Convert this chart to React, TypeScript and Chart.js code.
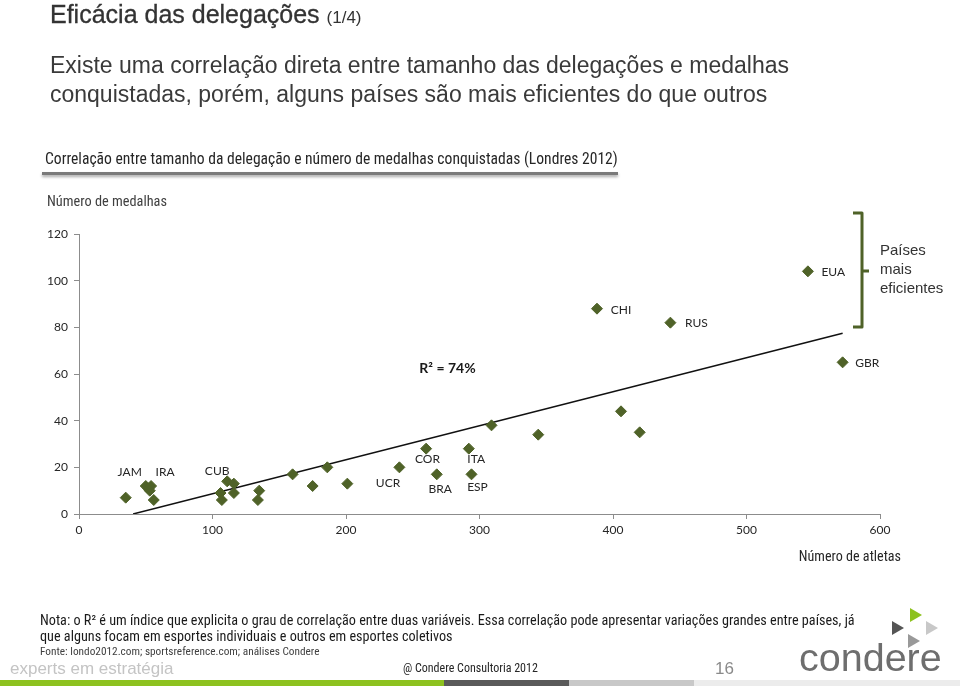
import React, { useEffect, useRef } from "react";
import { Chart, registerables } from "chart.js";

Chart.register(...registerables);

const athletes = [35, 50, 52, 54, 53, 56, 106, 107, 111, 116, 116, 135, 134, 160, 175, 186, 201, 240, 260, 268, 292, 294, 309, 344, 406, 420, 388, 443, 546, 572];
const medals = [7, 12, 11, 12, 10, 6, 9, 6, 14, 13, 9, 10, 6, 17, 12, 20, 13, 20, 28, 17, 28, 17, 38, 34, 44, 35, 88, 82, 104, 65];

const labelNames = ["JAM", "IRA", "CUB", "UCR", "COR", "BRA", "ITA", "ESP", "CHI", "RUS", "EUA", "GBR"];
const labelX = [38, 64.5, 103.5, 231.5, 261, 270.5, 297.5, 298.5, 406, 462.5, 565, 590.5];
const labelY = [18, 18, 18.4, 13.3, 23.6, 10.7, 23.6, 11.6, 87.4, 81.8, 103.6, 64.7];

const trendX = [40.5, 572];
const trendY = [0, 77.5];

const xTicks = [0, 100, 200, 300, 400, 500, 600];
const yTicks = [0, 20, 40, 60, 80, 100, 120];

const GREEN = "#4f6228";

const labelPlugin = {
  id: "pointLabels",
  afterDatasetsDraw(chart: any) {
    const { ctx, scales } = chart;
    ctx.save();
    ctx.font = "12px Lato, 'DejaVu Sans', sans-serif";
    ctx.fillStyle = "#262626";
    ctx.textAlign = "center";
    ctx.textBaseline = "middle";
    labelNames.forEach((n, i) => {
      ctx.fillText(n, scales.x.getPixelForValue(labelX[i]), scales.y.getPixelForValue(labelY[i]));
    });
    ctx.font = "bold 14px Lato, 'DejaVu Sans', sans-serif";
    ctx.fillStyle = "#1a1a1a";
    ctx.fillText("R² = 74%", scales.x.getPixelForValue(276), scales.y.getPixelForValue(62.5));
    ctx.restore();
  },
};

export default function App() {
  const ref = useRef<HTMLCanvasElement | null>(null);

  useEffect(() => {
    document.body.style.margin = "0";
    if (!ref.current) return;
    const chart = new Chart(ref.current, {
      type: "scatter",
      data: {
        datasets: [
          {
            label: "Países",
            data: athletes.map((a, i) => ({ x: a, y: medals[i] })),
            pointStyle: "rectRot",
            pointRadius: 5.5,
            pointBackgroundColor: GREEN,
            pointBorderColor: GREEN,
            pointBorderWidth: 1,
            showLine: false,
          },
          {
            label: "Tendência",
            type: "line",
            data: trendX.map((x, i) => ({ x, y: trendY[i] })),
            borderColor: "#111111",
            borderWidth: 1.5,
            pointRadius: 0,
            fill: false,
          } as any,
        ],
      },
      options: {
        responsive: false,
        animation: false,
        events: [],
        layout: { padding: { left: 0, right: 80, top: 234, bottom: 144 } },
        plugins: { legend: { display: false }, tooltip: { enabled: false } },
        scales: {
          x: {
            type: "linear",
            min: 0,
            max: 600,
            afterBuildTicks: (s: any) => {
              s.ticks = xTicks.map((v) => ({ value: v }));
            },
            afterFit: (s: any) => {
              s.height = 30;
            },
            grid: { drawOnChartArea: false, drawTicks: true, tickLength: 5, color: "#8c8c8c" },
            border: { color: "#8c8c8c", width: 1 },
            ticks: { color: "#262626", font: { size: 12, family: "Lato, 'DejaVu Sans', sans-serif" }, padding: 4 },
          },
          y: {
            type: "linear",
            min: 0,
            max: 120,
            afterBuildTicks: (s: any) => {
              s.ticks = yTicks.map((v) => ({ value: v }));
            },
            afterFit: (s: any) => {
              s.width = 79;
            },
            grid: { drawOnChartArea: false, drawTicks: true, tickLength: 5, color: "#8c8c8c" },
            border: { color: "#8c8c8c", width: 1 },
            ticks: { color: "#262626", font: { size: 12, family: "Lato, 'DejaVu Sans', sans-serif" }, padding: 6 },
          },
        },
      },
      plugins: [labelPlugin],
    });
    return () => chart.destroy();
  }, []);

  const narrow = "'Liberation Sans Narrow', 'Roboto Condensed', 'Liberation Sans', sans-serif";
  const abs = (style: React.CSSProperties): React.CSSProperties => ({ position: "absolute", whiteSpace: "nowrap", lineHeight: 1, ...style });

  return (
    <div style={{ position: "absolute", left: 0, top: 0, width: 960, height: 688, overflow: "hidden", background: "#fff", fontFamily: "'Liberation Sans', Arial, sans-serif" }}>
      <canvas ref={ref} width={960} height={688} style={{ position: "absolute", left: 0, top: 0, width: 960, height: 688 }} />
      <div style={abs({ left: 50, top: 2, fontSize: 25, color: "#333333", WebkitTextStroke: "0.3px #333333" })}>
        Eficácia das delegações <span style={{ fontSize: 17, WebkitTextStroke: "0px" }}>(1/4)</span>
      </div>
      <div style={abs({ left: 50, top: 51, fontSize: 23, color: "#3a3a3a", lineHeight: "29px" })}>
        Existe uma correlação direta entre tamanho das delegações e medalhas
        <br />
        conquistadas, porém, alguns países são mais eficientes do que outros
      </div>
      <div style={abs({ left: 45, top: 152, fontSize: 15.6, fontFamily: narrow, color: "#262626" })}>
        Correlação entre tamanho da delegação e número de medalhas conquistadas (Londres 2012)
      </div>
      <div style={{ position: "absolute", left: 42, top: 172, width: 576, height: 3, background: "#7a7a7a", boxShadow: "0 2px 3px rgba(0,0,0,0.35)" }} />
      <div style={abs({ left: 47, top: 194, fontSize: 14.3, fontFamily: narrow, color: "#404040" })}>Número de medalhas</div>
      <div style={abs({ right: 59, top: 549, fontSize: 14.1, fontFamily: narrow, color: "#262626" })}>Número de atletas</div>

      <svg width={960} height={688} style={{ position: "absolute", left: 0, top: 0 }}>
        <path d="M853 213 L862 213 L862 327 L853 327 M862 271 L869 271" fill="none" stroke={GREEN} strokeWidth={3} strokeLinejoin="round" />
        <polygon points="910,608 922,615 910,622" fill="#8dc21f" />
        <polygon points="892,621 904,628 892,635" fill="#555" />
        <polygon points="926,621 938,628 926,635" fill="#c8c8c8" />
        <polygon points="908,634 920,641 908,648" fill="#999" />
        <rect x={0} y={680} width={444} height={6} fill="#8dc21f" />
        <rect x={444} y={680} width={125} height={6} fill="#5a5a5a" />
        <rect x={569} y={680} width={125} height={6} fill="#c8c8c8" />
        <rect x={694} y={680} width={266} height={6} fill="#ececec" />
      </svg>

      <div style={abs({ left: 880, top: 240, fontSize: 15, color: "#333", lineHeight: "19px" })}>
        Países
        <br />
        mais
        <br />
        eficientes
      </div>

      <div style={abs({ left: 40, top: 612, fontSize: 14.2, fontFamily: narrow, color: "#1a1a1a", lineHeight: "16px" })}>
        Nota: o R² é um índice que explicita o grau de correlação entre duas variáveis. Essa correlação pode apresentar variações grandes entre países, já
        <br />
        que alguns focam em esportes individuais e outros em esportes coletivos
      </div>
      <div style={abs({ left: 40, top: 646, fontSize: 11.3, fontFamily: narrow, color: "#404040" })}>
        Fonte: londo2012.com; sportsreference.com; análises Condere
      </div>
      <div style={abs({ left: 10, top: 660, fontSize: 17, color: "#c4c4c4" })}>experts em estratégia</div>
      <div style={abs({ left: 403, top: 662, fontSize: 12, fontFamily: narrow, color: "#262626" })}>@ Condere Consultoria 2012</div>
      <div style={abs({ left: 715, top: 660, fontSize: 17, color: "#8a8a8a" })}>16</div>
      <div style={abs({ left: 799, top: 638, fontSize: 39.5, color: "#6e6e6e", fontWeight: 300 })}>condere</div>
    </div>
  );
}
